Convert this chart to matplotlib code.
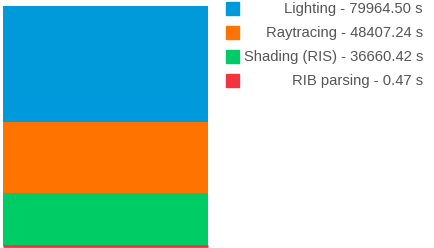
import matplotlib
matplotlib.use("Agg")
import matplotlib.pyplot as plt
from matplotlib.patches import Rectangle

# data
categories = ["Lighting", "Raytracing", "Shading (RIS)", "RIB parsing"]
seconds = [79964.50, 48407.24, 36660.42, 0.47]
colors = ["#0099DA", "#FF7300", "#00CC66", "#F5333F"]

plt.rcParams["font.family"] = ["Liberation Sans", "DejaVu Sans"]

fig = plt.figure(figsize=(4.35, 2.48), dpi=100)

# stacked bar, bottom segment is the last category
ax = fig.add_axes([3 / 435, 2 / 248, 205 / 435, 240 / 248])
bottom = 0
for name, val, col in reversed(list(zip(categories, seconds, colors))):
    tiny = val < 100
    bars = ax.bar(0, val, bottom=bottom, width=1, color=col, align="edge",
                  edgecolor=col, linewidth=2.0 if tiny else 0,
                  zorder=3 if tiny else 2)
    if tiny:
        bars[0].set_clip_on(False)
    bottom += val
ax.set_xlim(0, 1)
ax.set_ylim(0, sum(seconds))
ax.axis("off")

# legend drawn by hand so labels can be right aligned
lax = fig.add_axes([0, 0, 1, 1])
lax.set_xlim(0, 435)
lax.set_ylim(248, 0)
lax.axis("off")
for i, (name, val, col) in enumerate(zip(categories, seconds, colors)):
    y = 8 + i * 24
    lax.add_patch(Rectangle((226, y - 6.5), 13, 13, color=col))
    lax.text(423, y + 0.5, f"{name} - {val:.2f} s", ha="right", va="center",
             fontsize=10.6, color="#555555")

fig.savefig("out.png", dpi=100)
